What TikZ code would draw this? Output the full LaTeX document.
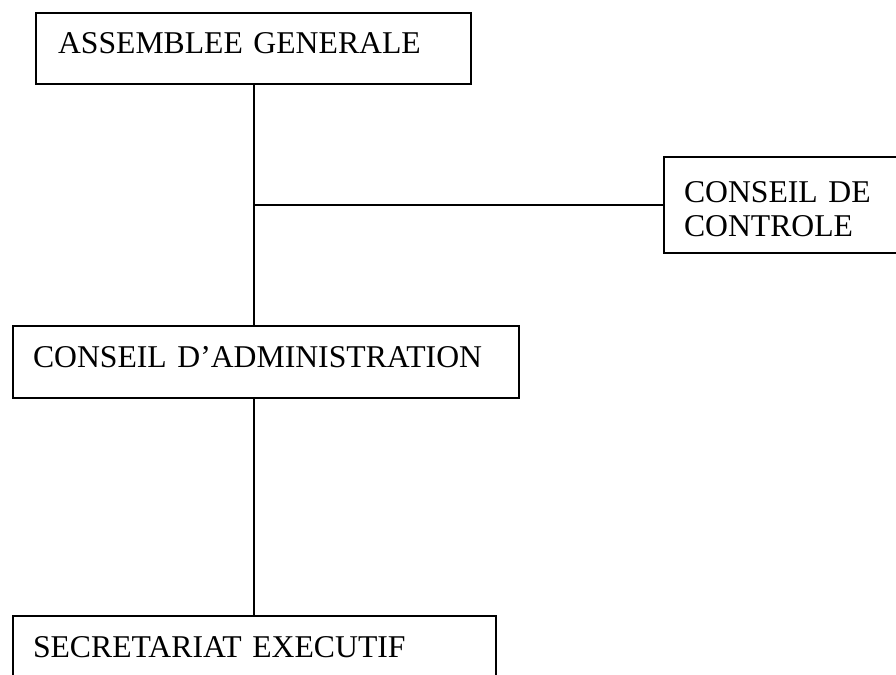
\documentclass[tikz,border=0pt]{standalone}
\usepackage{fontspec}
\setmainfont{Liberation Serif}

\begin{document}
\begin{tikzpicture}[x=0.5pt,y=-0.5pt]
	\tikzstyle{every node}+=[inner sep=0pt]
	\tikzstyle{orgbox}=[draw=black, line width=1pt, anchor=north west, align=left, inner xsep=10pt, text depth=5pt, font=\fontsize{15.85pt}{17pt}\selectfont]
	\tikzstyle{orgline}=[draw=black, line width=1pt]
	\useasboundingbox (0,0) rectangle (896,675);
	\clip (0,0) rectangle (896,675);

	\node[orgbox, inner xsep=11pt, text width=195.5pt, minimum height=35.5pt] (assemblee) at (35,12) {ASSEMBLEE GENERALE};
	\node[orgbox, text height=14.5pt, text depth=17pt, text width=118.5pt, minimum height=48pt] (controle) at (663,156) {CONSEIL DE\\CONTROLE};
	\node[orgbox, text width=233pt, minimum height=36pt] (admin) at (12,325) {CONSEIL D’ADMINISTRATION};
	\node[orgbox, text width=221.5pt, minimum height=36pt] (secretariat) at (12,615) {SECRETARIAT EXECUTIF};

	% liaisons
	\coordinate (embranchement) at (assemblee.south |- controle.west);
	\draw[orgline] (assemblee.south) -- (assemblee.south |- admin.north);
	\draw[orgline] (embranchement) -- (controle.west);
	\draw[orgline] (assemblee.south |- admin.south) -- (assemblee.south |- secretariat.north);
\end{tikzpicture}
\end{document}
